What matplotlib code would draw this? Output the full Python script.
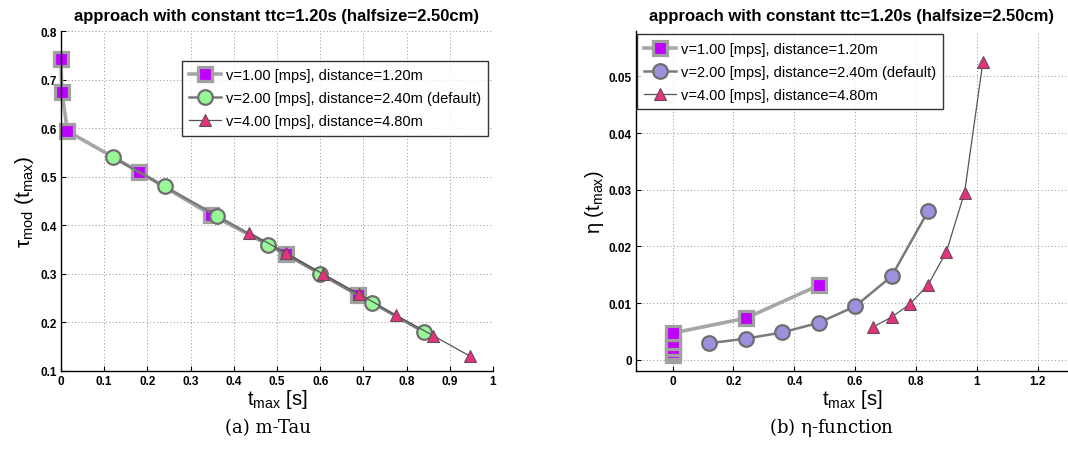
import numpy as np
import matplotlib.pyplot as plt

plt.rcParams['font.family'] = ['Liberation Sans', 'DejaVu Sans']
plt.rcParams['mathtext.fontset'] = 'custom'
plt.rcParams['mathtext.rm'] = 'Liberation Sans'
plt.rcParams['mathtext.it'] = 'Liberation Sans'
plt.rcParams['mathtext.default'] = 'regular'

# data
labels = ['v=1.00 [mps], distance=1.20m',
          'v=2.00 [mps], distance=2.40m (default)',
          'v=4.00 [mps], distance=4.80m']

# (a) m-Tau
tau_t1 = [0.0, 0.002, 0.015, 0.181, 0.347, 0.521, 0.688]
tau_y1 = [0.742, 0.674, 0.594, 0.510, 0.422, 0.341, 0.256]
tau_t2 = [0.12, 0.24, 0.36, 0.48, 0.60, 0.72, 0.84]
tau_y2 = [0.54, 0.48, 0.42, 0.36, 0.30, 0.24, 0.18]
tau_t4 = [0.436, 0.521, 0.606, 0.691, 0.776, 0.861, 0.946]
tau_y4 = [0.385, 0.343, 0.300, 0.258, 0.215, 0.173, 0.131]

# (b) eta-function
eta_t1 = [0.0, 0.0, 0.0, 0.0, 0.0, 0.24, 0.48]
eta_y1 = [0.0008, 0.0013, 0.0020, 0.0031, 0.0047, 0.0073, 0.0131]
eta_t2 = [0.12, 0.24, 0.36, 0.48, 0.60, 0.72, 0.84]
eta_y2 = [0.0029, 0.0037, 0.0048, 0.0065, 0.0094, 0.0147, 0.0262]
eta_t4 = [0.66, 0.72, 0.78, 0.84, 0.90, 0.96, 1.02]
eta_y4 = [0.0058, 0.0075, 0.0098, 0.0132, 0.0190, 0.0295, 0.0525]

sq_style = dict(color='#a6a6a6', lw=2.6, marker='s', ms=10, mfc='#bf00ff', mec='#a0a0a0', mew=2.3,
                clip_on=False)
tri_style = dict(color='#555555', lw=0.9, marker='^', ms=9, mfc='#e2337c', mec='#6a4a5a', mew=0.8,
                 clip_on=False)


def circ_style(face):
    return dict(color='#7a7a7a', lw=1.8, marker='o', ms=10.5, mfc=face, mec='#6e6e6e', mew=1.6,
                clip_on=False)


def style_axes(ax):
    for s in ['top', 'right']:
        ax.spines[s].set_visible(False)
    ax.spines['left'].set_linewidth(1.0)
    ax.spines['bottom'].set_linewidth(1.0)
    ax.grid(True, color='#909090', linestyle=(0, (1, 2.5)), linewidth=0.7)
    ax.set_axisbelow(True)
    ax.tick_params(direction='in', length=3.5, labelsize=8.5, pad=3)
    for lab in ax.get_xticklabels() + ax.get_yticklabels():
        lab.set_fontweight('bold')
    ax.set_title('approach with constant ttc=1.20s (halfsize=2.50cm)',
                 fontsize=12, fontweight='bold', pad=8)


def add_legend(ax, anchor):
    leg = ax.legend(loc='upper left', bbox_to_anchor=anchor, fontsize=10.5,
                    frameon=True, fancybox=False, edgecolor='black', borderaxespad=0,
                    handlelength=2.2, handletextpad=0.3, borderpad=0.5, labelspacing=0.62)
    leg.get_frame().set_linewidth(1.0)
    return leg


fig = plt.figure(figsize=(10.68, 4.52), dpi=100)

ax1 = fig.add_axes([0.0571, 0.177, 0.4045, 0.752])
ax1.plot(tau_t1, tau_y1, label=labels[0], **sq_style)
ax1.plot(tau_t2, tau_y2, label=labels[1], **circ_style('#98f898'))
ax1.plot(tau_t4, tau_y4, label=labels[2], **tri_style)
ax1.set_xlim(0, 1)
ax1.set_ylim(0.1, 0.8)
ax1.set_xticks(np.arange(0, 1.01, 0.1))
ax1.set_xticklabels(['0', '0.1', '0.2', '0.3', '0.4', '0.5', '0.6', '0.7', '0.8', '0.9', '1'])
ax1.set_yticks(np.arange(0.1, 0.81, 0.1))
ax1.set_xlabel(r'$t_{max}$ [s]', fontsize=14.5, labelpad=0)
ax1.set_ylabel(r'$\tau_{mod}\ (t_{max})$', fontsize=15, labelpad=3)
style_axes(ax1)
add_legend(ax1, (0.28, 0.912))

ax2 = fig.add_axes([0.5955, 0.177, 0.4045, 0.752])
ax2.plot(eta_t1, eta_y1, label=labels[0], **sq_style)
ax2.plot(eta_t2, eta_y2, label=labels[1], **circ_style('#9e90dc'))
ax2.plot(eta_t4, eta_y4, label=labels[2], **tri_style)
ax2.set_xlim(-0.12, 1.30)
ax2.set_ylim(-0.002, 0.058)
ax2.set_xticks([0, 0.2, 0.4, 0.6, 0.8, 1.0, 1.2])
ax2.set_xticklabels(['0', '0.2', '0.4', '0.6', '0.8', '1', '1.2'])
ax2.set_yticks([0, 0.01, 0.02, 0.03, 0.04, 0.05])
ax2.set_yticklabels(['0', '0.01', '0.02', '0.03', '0.04', '0.05'])
ax2.set_xlabel(r'$t_{max}$ [s]', fontsize=14.5, labelpad=0)
ax2.set_ylabel(r'$\eta\ (t_{max})$', fontsize=14.5, labelpad=2)
style_axes(ax2)
add_legend(ax2, (0.002, 0.99))

# sub-captions
fig.text(0.251, 0.042, '(a) m-Tau', fontsize=13, family='DejaVu Serif', ha='center')
fig.text(0.779, 0.042, r'(b) $\eta$-function', fontsize=13, family='DejaVu Serif', ha='center')

fig.savefig('out.png', dpi=100)
